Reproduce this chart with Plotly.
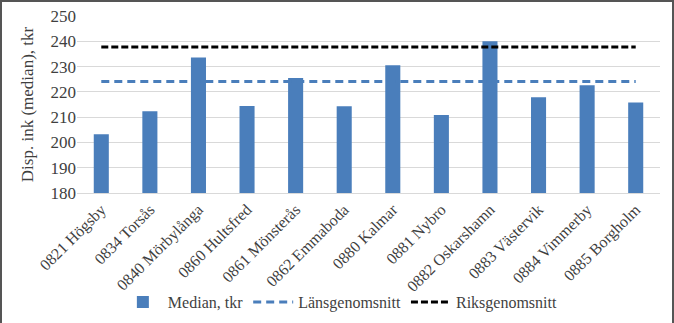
import plotly.graph_objects as go

# Municipalities in Kalmar län
kommuner = [
    "0821 Högsby", "0834 Torsås", "0840 Mörbylånga", "0860 Hultsfred",
    "0861 Mönsterås", "0862 Emmaboda", "0880 Kalmar", "0881 Nybro",
    "0882 Oskarshamn", "0883 Västervik", "0884 Vimmerby", "0885 Borgholm",
]
# Disposable income, median, thousand SEK
median_tkr = [203.2, 212.3, 233.6, 214.4, 225.5, 214.3, 230.5, 210.8, 240.0, 217.9, 222.6, 215.8]
lansgenomsnitt = 224.1
riksgenomsnitt = 237.7

y_ticks = [180, 190, 200, 210, 220, 230, 240, 250]

W, H = 674, 323
M = dict(l=77, r=14, t=16, b=130)
FONT = "Liberation Serif, Times New Roman, serif"
BLUE = "#4a7ebb"
TEXT = "#3f3f3f"

fig = go.Figure()
fig.add_trace(go.Bar(
    x=kommuner, y=median_tkr, name="Median, tkr",
    marker=dict(color=BLUE, line=dict(width=0)), width=0.31,
))
fig.add_trace(go.Scatter(
    x=kommuner, y=[lansgenomsnitt] * len(kommuner), name="Länsgenomsnitt",
    mode="lines", line=dict(color=BLUE, width=3, dash="8px,5px"),
))
fig.add_trace(go.Scatter(
    x=kommuner, y=[riksgenomsnitt] * len(kommuner), name="Riksgenomsnitt",
    mode="lines", line=dict(color="#000000", width=3, dash="7px,3px"),
))

# outer frame around the whole figure
pw = W - M["l"] - M["r"]
ph = H - M["t"] - M["b"]
fig.add_shape(
    type="rect", xref="paper", yref="paper",
    x0=(1 - M["l"]) / pw, x1=(W - 1 - M["l"]) / pw,
    y0=(M["b"] - H + 1) / ph, y1=(H - 1 - M["b"]) / ph,
    line=dict(color="#555555", width=2), layer="above",
)

fig.update_layout(
    width=W, height=H, margin=M,
    paper_bgcolor="white", plot_bgcolor="white",
    font=dict(family=FONT, size=16, color=TEXT),
    showlegend=True,
    legend=dict(orientation="h", xref="container", x=0.505, xanchor="center",
                yref="container", y=21 / H, yanchor="middle",
                bgcolor="rgba(0,0,0,0)",
                font=dict(size=16, color=TEXT), traceorder="normal",
                itemwidth=40),
    bargap=0.69,
)
fig.update_xaxes(
    type="category", range=[-0.5, len(kommuner) - 0.5], automargin=False,
    tickangle=-45, tickfont=dict(size=16, color=TEXT),
    showline=True, linecolor="#d9d9d9", linewidth=1, ticks="",
    showgrid=False,
)
fig.update_yaxes(
    range=[180, 250], tickvals=y_ticks, showgrid=True, gridcolor="#d9d9d9",
    gridwidth=1, zeroline=False, showline=False, ticks="", automargin=False,
    tickfont=dict(size=17, color=TEXT),
    title=dict(text="Disp. ink (median), tkr", font=dict(size=17, color=TEXT), standoff=12),
)

fig.write_html("out.html")
